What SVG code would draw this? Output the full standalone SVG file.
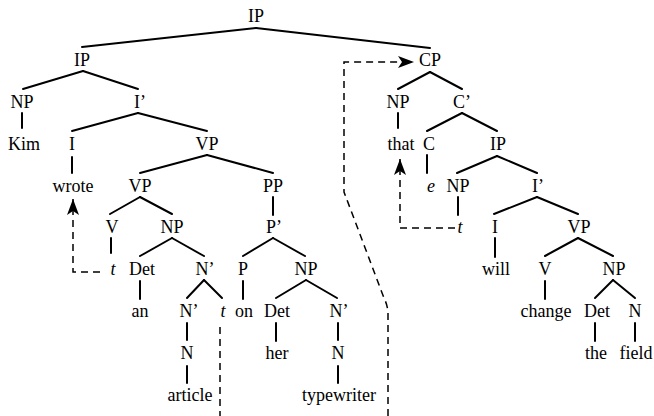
<svg xmlns="http://www.w3.org/2000/svg" width="654" height="416" viewBox="0 0 654 416" font-family="Liberation Serif, Times New Roman, DejaVu Serif, serif">
<style>
text{font-family:'Liberation Serif','Times New Roman','DejaVu Serif',serif;font-size:18px;text-anchor:middle;fill:#000}
.it{font-style:italic}
.e line{stroke:#000;stroke-width:2;stroke-linecap:round}
.d{fill:none;stroke:#000;stroke-width:1.5;stroke-dasharray:7,5}
</style>
<defs>
<marker id="ah" viewBox="0 0 16 12" refX="16" refY="6" markerWidth="16" markerHeight="12" markerUnits="userSpaceOnUse" orient="auto">
<path d="M0,0 L16,6 L0,12 L4,6 z" fill="#000"/>
</marker>
</defs>
<rect width="654" height="416" fill="#fff"/>
<g id="connectors">
<g class="e">
<line x1="256" y1="28" x2="82" y2="47"/><line x1="256" y1="28" x2="430" y2="48"/>
<line x1="83" y1="71" x2="23" y2="89"/><line x1="83" y1="71" x2="138" y2="89"/>
<line x1="22" y1="113" x2="22" y2="128"/>
<line x1="138" y1="113" x2="72" y2="131"/><line x1="138" y1="113" x2="207" y2="131"/>
<line x1="72" y1="157" x2="72" y2="173"/>
<line x1="207" y1="155" x2="140" y2="173"/><line x1="207" y1="155" x2="273" y2="173"/>
<line x1="140" y1="197" x2="110" y2="214"/><line x1="140" y1="197" x2="172" y2="214"/>
<line x1="273" y1="197" x2="273" y2="215"/>
<line x1="111" y1="238" x2="111" y2="253"/>
<line x1="172" y1="238" x2="140" y2="256"/><line x1="172" y1="238" x2="204" y2="256"/>
<line x1="273" y1="238" x2="243" y2="256"/><line x1="273" y1="238" x2="305" y2="256"/>
<line x1="140" y1="281" x2="140" y2="299"/>
<line x1="204" y1="280" x2="187" y2="298"/><line x1="204" y1="280" x2="222" y2="298"/>
<line x1="243" y1="281" x2="243" y2="299"/>
<line x1="306" y1="280" x2="276" y2="298"/><line x1="306" y1="280" x2="337" y2="298"/>
<line x1="187" y1="323" x2="187" y2="340"/>
<line x1="276" y1="323" x2="276" y2="341"/>
<line x1="338" y1="323" x2="338" y2="340"/>
<line x1="187" y1="366" x2="187" y2="383"/>
<line x1="338" y1="366" x2="338" y2="383"/>
<line x1="430" y1="72" x2="398" y2="89"/><line x1="430" y1="72" x2="462" y2="89"/>
<line x1="398" y1="113" x2="398" y2="128"/>
<line x1="462" y1="113" x2="427" y2="131"/><line x1="462" y1="113" x2="497" y2="131"/>
<line x1="427" y1="155" x2="427" y2="173"/>
<line x1="497" y1="156" x2="457" y2="173"/><line x1="497" y1="156" x2="537" y2="173"/>
<line x1="458" y1="197" x2="458" y2="215"/>
<line x1="537" y1="197" x2="494" y2="214"/><line x1="537" y1="197" x2="578" y2="214"/>
<line x1="495" y1="238" x2="495" y2="257"/>
<line x1="578" y1="238" x2="545" y2="256"/><line x1="578" y1="238" x2="613" y2="256"/>
<line x1="545" y1="281" x2="545" y2="299"/>
<line x1="613" y1="280" x2="595" y2="298"/><line x1="613" y1="280" x2="635" y2="298"/>
<line x1="595" y1="323" x2="595" y2="341"/>
<line x1="635" y1="323" x2="635" y2="341"/>
</g>
<path class="d" d="M100,272 H73 V199" marker-end="url(#ah)"/>
<path class="d" d="M455,228 H400 V159" marker-end="url(#ah)"/>
<path class="d" d="M220,327 V416"/>
<path class="d" d="M388,416 V314 Q388,306 384,298 L344,192 V62 H414" marker-end="url(#ah)"/>
</g>
<g id="n_ip0"><text x="256" y="22">IP</text></g>
<g id="n_ip1"><text x="82" y="66">IP</text></g>
<g id="n_np1"><text x="22" y="108">NP</text></g>
<g id="n_ibar1"><text x="140" y="108">I’</text></g>
<g id="n_kim"><text x="24" y="150">Kim</text></g>
<g id="n_i1"><text x="72" y="150">I</text></g>
<g id="n_vp1"><text x="207" y="150">VP</text></g>
<g id="n_wrote"><text x="73" y="192">wrote</text></g>
<g id="n_vp2"><text x="140" y="192">VP</text></g>
<g id="n_pp"><text x="273" y="192">PP</text></g>
<g id="n_v1"><text x="112" y="233">V</text></g>
<g id="n_np2"><text x="172" y="233">NP</text></g>
<g id="n_pbar"><text x="274" y="233">P’</text></g>
<g id="n_t1"><text class="it" x="113" y="275">t</text></g>
<g id="n_det1"><text x="142" y="275">Det</text></g>
<g id="n_nbar1"><text x="205" y="275">N’</text></g>
<g id="n_p"><text x="243" y="275">P</text></g>
<g id="n_np3"><text x="306" y="275">NP</text></g>
<g id="n_an"><text x="140" y="317">an</text></g>
<g id="n_nbar2"><text x="189" y="317">N’</text></g>
<g id="n_t2"><text class="it" x="223" y="317">t</text></g>
<g id="n_on"><text x="244" y="317">on</text></g>
<g id="n_det2"><text x="277" y="317">Det</text></g>
<g id="n_nbar3"><text x="339" y="317">N’</text></g>
<g id="n_n1"><text x="187" y="359">N</text></g>
<g id="n_her"><text x="277" y="359">her</text></g>
<g id="n_n2"><text x="338" y="359">N</text></g>
<g id="n_article"><text x="190" y="401">article</text></g>
<g id="n_typewriter"><text x="339" y="401">typewriter</text></g>
<g id="n_cp"><text x="430" y="66">CP</text></g>
<g id="n_np4"><text x="398" y="108">NP</text></g>
<g id="n_cbar"><text x="462" y="108">C’</text></g>
<g id="n_that"><text x="401" y="150">that</text></g>
<g id="n_c"><text x="429" y="150">C</text></g>
<g id="n_ip2"><text x="498" y="150">IP</text></g>
<g id="n_e"><text class="it" x="431" y="192">e</text></g>
<g id="n_np5"><text x="458" y="192">NP</text></g>
<g id="n_ibar2"><text x="538" y="192">I’</text></g>
<g id="n_t3"><text class="it" x="460" y="233">t</text></g>
<g id="n_i2"><text x="495" y="233">I</text></g>
<g id="n_vp3"><text x="579" y="233">VP</text></g>
<g id="n_will"><text x="496" y="275">will</text></g>
<g id="n_v2"><text x="545" y="275">V</text></g>
<g id="n_np6"><text x="614" y="275">NP</text></g>
<g id="n_change"><text x="546" y="317">change</text></g>
<g id="n_det3"><text x="597" y="317">Det</text></g>
<g id="n_n3"><text x="635" y="317">N</text></g>
<g id="n_the"><text x="596" y="359">the</text></g>
<g id="n_field"><text x="636" y="359">field</text></g>
</svg>
